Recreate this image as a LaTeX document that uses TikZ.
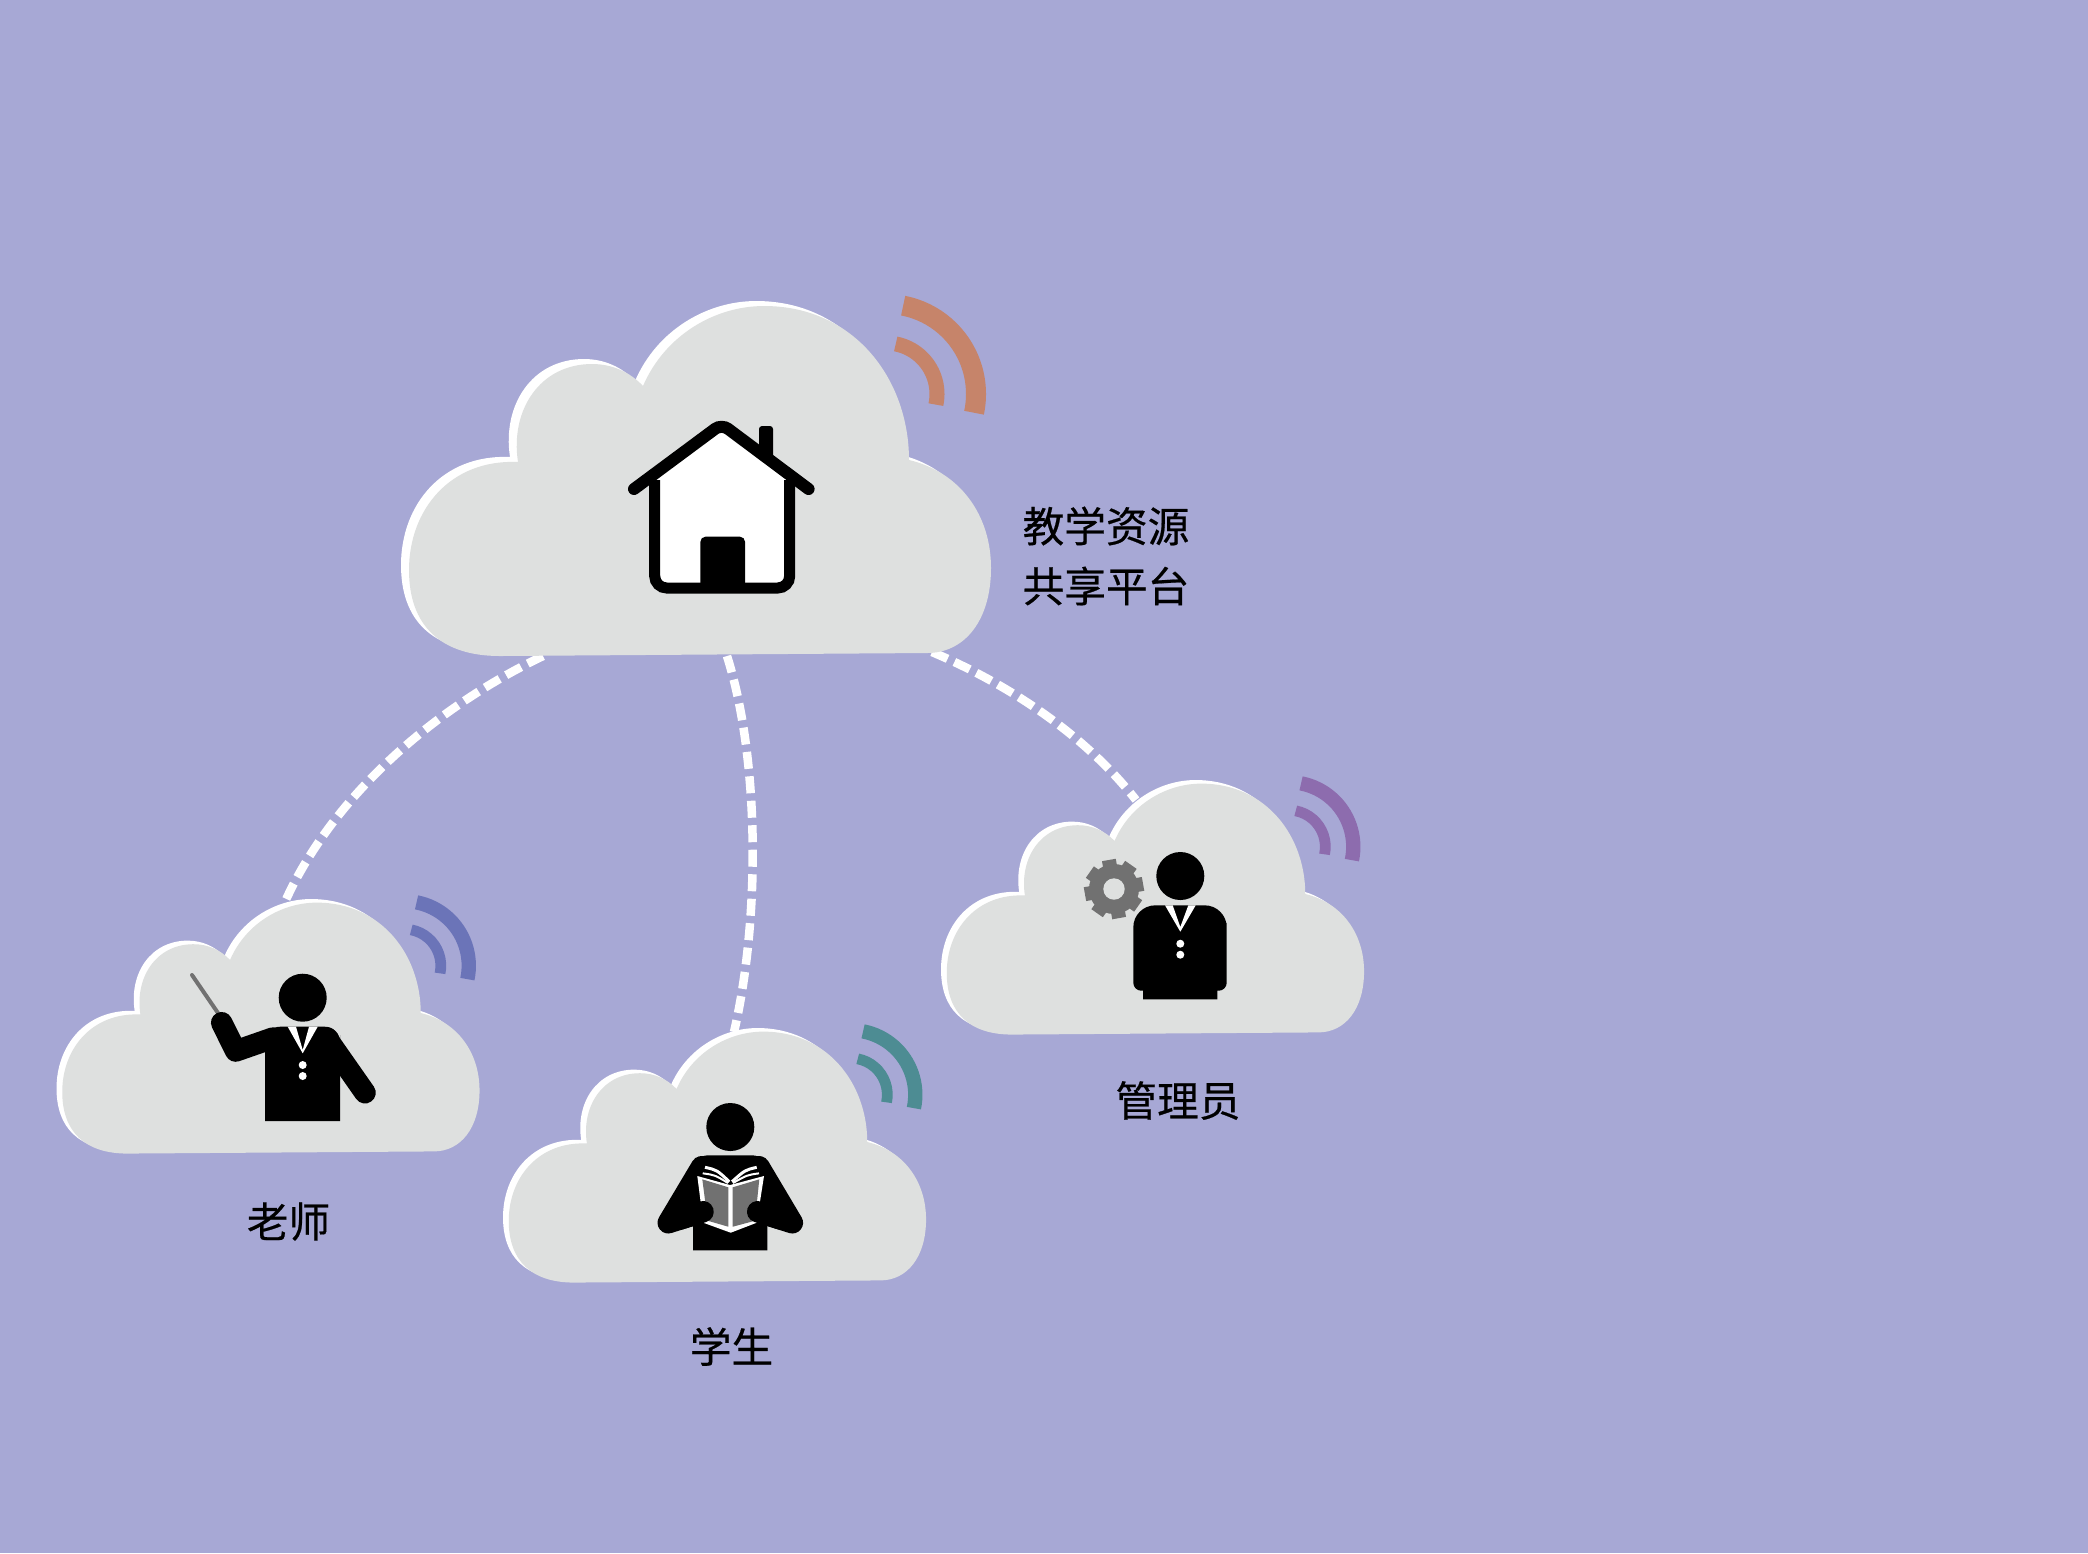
\documentclass[tikz,border=0pt]{standalone}
\usepackage{fontspec}
\setmainfont{Noto Sans CJK SC}
\newfontfamily\labelfont[FakeBold=0.5]{Noto Sans CJK SC}
\definecolor{backcol}{HTML}{A7A8D5}
\definecolor{cloudcol}{HTML}{DEE0DF}
\definecolor{iconcol}{HTML}{717171}
\definecolor{wifired}{HTML}{C6846A}
\definecolor{wifiblue}{HTML}{6B74B8}
\definecolor{wifigreen}{HTML}{4D8C93}
\definecolor{wifipurple}{HTML}{8D6CAE}
\tikzset{
  label/.style={font=\labelfont\fontsize{11.85}{16}\selectfont, inner sep=0pt, align=center},
  link/.style={white, line width=.85mm, dash pattern=on 1.7mm off .75mm},
  limb/.style={line width=2.15mm, line cap=round, line join=round},
  collar/.style={fill=white},
  button/.style={fill=white}
}
% #1 colour of the signal, #2 scale of the cloud
\newcommand{\cloudpath}{(500,656) .. controls (440,656) and (409,625) .. (409,570)
  .. controls (409,510) and (450,459) .. (518,462)
  .. controls (510,410) and (540,364) .. (592,364)
  .. controls (612,364) and (630,372) .. (643,386)
  .. controls (665,335) and (715,306) .. (764,306)
  .. controls (855,306) and (909,380) .. (909,460)
  .. controls (960,472) and (991,515) .. (991,568)
  .. controls (991,620) and (965,653) .. (927,653) -- cycle}
\newcommand{\wificloud}[2]{
  \fill[white, shift={(-8,-5)}] \cloudpath;
  \fill[cloudcol] \cloudpath;
  \draw[#1, line width=#2*2mm] (886,394) ++(-79:90) arc[start angle=-79, end angle=12, radius=90];
  \draw[#1, line width=#2*1.5mm] (886,394) ++(-79:51) arc[start angle=-79, end angle=12, radius=51];
}
\begin{document}
\begin{tikzpicture}[x=.01cm, y=-.01cm]
  \fill[backcol] (0,0) rectangle (2088,1553);
  \useasboundingbox (0,0) rectangle (2088,1553);

  \coordinate (platform1) at (543,656);
  \coordinate (platform2) at (727,656);
  \coordinate (platform3) at (932,652);
  \coordinate (teacher) at (284,904);
  \coordinate (student) at (734,1032);
  \coordinate (admin) at (1136,800);
  \draw[link] (platform1) .. controls (430,710) and (330,800) .. (teacher);
  \draw[link] (platform2) .. controls (760,760) and (760,920) .. (student);
  \draw[link] (platform3) .. controls (1010,685) and (1085,735) .. (admin);

  % clouds
  \wificloud{wifired}{1}
  \begin{scope}[shift={(-231,683.2)}, scale=.717]
    \wificloud{wifiblue}{.717}
  \end{scope}
  \begin{scope}[shift={(215.5,812.2)}, scale=.717]
    \wificloud{wifigreen}{.717}
  \end{scope}
  \begin{scope}[shift={(653.5,564.2)}, scale=.717]
    \wificloud{wifipurple}{.717}
  \end{scope}

  % house
  \fill[white] (655,480) -- (721.6,425) -- (789,480) -- (789,588) -- (655,588) -- cycle;
  \fill[rounded corners=.3mm] (759,426) rectangle (773,460);
  \draw[line width=1.1mm, rounded corners=1.2mm] (654.7,480) -- (654.7,588) -- (789.7,588) -- (789.7,480);
  \draw[line width=1.2mm, line cap=round, rounded corners=.8mm] (634,489) -- (721.6,424) -- (808.6,489);
  \fill[rounded corners=.5mm] (700.4,590) -- (700.4,536.7) -- (745,536.7) -- (745,590) -- cycle;

  % teacher
  \fill (302.7,997.7) circle (24);
  \draw[iconcol, line width=.4mm, line cap=round] (218,1013) -- (192,975);
  \fill (265,1121) -- (265,1050) [rounded corners=1.5mm] -- (265,1026.7) -- (340,1026.7) -- (340,1050) [sharp corners] -- (340,1121) -- cycle;
  \draw[limb] (326.7,1038) -- (365,1092.7);
  \draw[limb] (273,1038) -- (235.7,1051) -- (221.7,1022.7);
  \fill[collar] (287.7,1026.7) -- (302.7,1053.3) -- (317.7,1026.7) -- (309,1026.7) -- (302.7,1050) -- (296,1026.7) -- cycle;
  \fill[button] (302.7,1065) circle (4) (302.7,1076) circle (4);

  % student
  \fill (730.3,1127) circle (24);
  \fill (693,1250.3) -- (693,1190) [rounded corners=1.5mm] -- (693,1155.3) -- (767.3,1155.3) -- (767.3,1190) [sharp corners] -- (767.3,1250.3) -- cycle;
  \draw[limb] (701.7,1166.7) -- (668.3,1222.7) -- (703,1211.7);
  \draw[limb] (759,1166.7) -- (792.3,1222.7) -- (757.7,1211.7);
  \fill[black] (701.7,1166.7) -- (668.3,1222.7) -- (703,1211.7) -- cycle;
  \fill[black] (759,1166.7) -- (792.3,1222.7) -- (757.7,1211.7) -- cycle;
  \fill[white] (697.3,1176) -- (730,1185) -- (764,1176) -- (756.7,1222.7) -- (730.7,1232.7) -- (703.3,1222.7) -- cycle;
  \fill[iconcol] (702.3,1179.3) -- (728.3,1187.3) -- (728.3,1226.7) -- (707.7,1220.7) -- cycle;
  \fill[iconcol] (732.7,1187.3) -- (759.3,1179.3) -- (755,1220.7) -- (732.7,1226.7) -- cycle;
  \draw[white, line width=.3mm] (705,1167.3) .. controls (717,1170) .. (729.3,1181.7);
  \draw[white, line width=.2mm] (702.7,1173.3) .. controls (715,1175) .. (728,1183);
  \draw[white, line width=.3mm] (756.7,1167.3) .. controls (745,1170) .. (732,1181.7);
  \draw[white, line width=.2mm] (759,1173.3) .. controls (747,1175) .. (733,1183);
  \draw[limb] (680,1219) -- (703,1211.7);
  \draw[limb] (781,1219) -- (757.7,1211.7);

  % admin
  \fill (1180.3,876) circle (24);
  \fill (1143,999.3) -- (1143,990.7) [rounded corners=.8mm] -- (1133.3,990.7) -- (1133.3,945) [rounded corners=2.2mm] -- (1133.3,905.3) -- (1226.7,905.3) -- (1226.7,945) [rounded corners=.8mm] -- (1226.7,990.7) [sharp corners] -- (1217.3,990.7) -- (1217.3,999.3) -- cycle;
  \fill[collar] (1165,905.3) -- (1180.3,931.7) -- (1195.7,905.3) -- (1188.3,905.3) -- (1180.3,927) -- (1172.7,905.3) -- cycle;
  \fill[button] (1180.3,943.7) circle (4) (1180.3,954.7) circle (4);
  \fill[iconcol] (1114,889) circle (25);
  \foreach \ang in {10,55,...,325}
    \fill[iconcol, shift={(1114,889)}, rotate=\ang] (-7,-29.5) rectangle (7,-20);
  \fill[cloudcol] (1114,889) circle (10.7);

  % labels
  \node[label] (teachertext) at (288.5,1221.5) {老师};
  \node[label] (studenttext) at (731.5,1346.5) {学生};
  \node[label] (admintext) at (1178,1100.5) {管理员};
  \node[label] (platformtext1) at (1106,526) {教学资源};
  \node[label] (platformtext2) at (1106,586) {共享平台};
\end{tikzpicture}
\end{document}
